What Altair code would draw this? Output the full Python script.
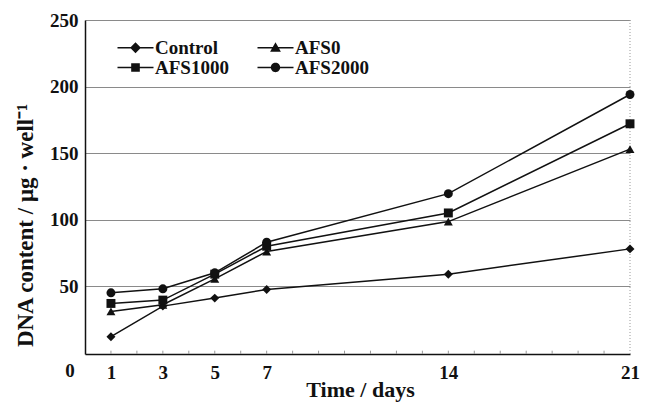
import altair as alt
import pandas as pd

days = [1, 3, 5, 7, 14, 21]
series_names = ["Control", "AFS0", "AFS1000", "AFS2000"]
series_shapes = ["diamond", "triangle-up", "square", "circle"]
control = [12, 35, 41, 47.5, 59, 78]
afs0 = [31, 36, 55.5, 76, 98.5, 153]
afs1000 = [37, 39.5, 59, 80, 105, 172]
afs2000 = [45, 48, 60, 83, 119.5, 194]
x_ticks = [1, 3, 5, 7, 14, 21]
y_ticks = [50, 100, 150, 200, 250]
minor_days = list(range(1, 21))

values = {"Control": control, "AFS0": afs0, "AFS1000": afs1000, "AFS2000": afs2000}
rows = []
for name in series_names:
    for d, v in zip(days, values[name]):
        rows.append({"day": d, "dna": v, "series": name})
df = pd.DataFrame(rows)

FONT = "Liberation Serif"

x_enc = alt.X(
    "day:Q",
    scale=alt.Scale(domain=[0, 21], nice=False, zero=False),
    axis=alt.Axis(
        values=x_ticks, title="Time / days", grid=False, ticks=False,
        labelFont=FONT, labelFontSize=19, labelFontWeight="bold", labelColor="#111",
        labelPadding=9, labelFlush=False,
        titleFont=FONT, titleFontSize=22, titleFontWeight="bold", titleColor="#111",
        titleX=275, titleY=42, titleBaseline="alphabetic", titleAlign="center",
        domainColor="#111", domainWidth=1.5,
    ),
)
y_enc = alt.Y(
    "dna:Q",
    scale=alt.Scale(domain=[-1, 250], nice=False, zero=False),
    axis=alt.Axis(
        values=y_ticks, title="DNA content / μg · well⁻¹", ticks=False,
        grid=True, gridColor="#8a8a8a", gridWidth=1,
        labelFont=FONT, labelFontSize=19, labelFontWeight="bold", labelColor="#111",
        labelPadding=7,
        titleFont=FONT, titleFontSize=23, titleFontWeight="bold", titleColor="#111",
        titleX=-60, titleY=205, titleAlign="center", titleBaseline="middle", titleAngle=-90,
        domainColor="#111", domainWidth=1.5,
    ),
)

base = alt.Chart(df)

lines = base.mark_line(color="#111", strokeWidth=1.5).encode(
    x=x_enc, y=y_enc, detail="series:N"
)

point_layers = [
    base.transform_filter(alt.datum.series == name)
    .mark_point(filled=True, color="#111", size=80, opacity=1, shape=shp)
    .encode(x="day:Q", y="dna:Q")
    for name, shp in zip(series_names, series_shapes)
]

line_seg = "M-2,-0.08L2,-0.08L2,0.08L-2,0.08Z"
legend_paths = [
    line_seg + "M0,-0.6L0.6,0L0,0.6L-0.6,0Z",
    line_seg + "M0,-0.6L0.6,0.45L-0.6,0.45Z",
    line_seg + "M-0.48,-0.48L0.48,-0.48L0.48,0.48L-0.48,0.48Z",
    line_seg + "M-0.52,0A0.52,0.52 0 1,1 0.52,0A0.52,0.52 0 1,1 -0.52,0Z",
]

legend_layer = base.mark_point(
    filled=False, color="#111", fill="#111", strokeWidth=1.3, opacity=0
).encode(
    x="day:Q", y="dna:Q",
    shape=alt.Shape(
        "series:N",
        scale=alt.Scale(domain=series_names, range=legend_paths),
        legend=alt.Legend(
            title=None, orient="none", legendX=41, legendY=18, columns=2,
            direction="horizontal",
            labelFont=FONT, labelFontSize=19, labelFontWeight="bold",
        ),
    ),
)

minor_df = pd.DataFrame({"day": minor_days, "y0": [-1] * len(minor_days), "y1": [1.5] * len(minor_days)})
minor = alt.Chart(minor_df).mark_rule(color="#999", strokeWidth=1).encode(
    x="day:Q", y="y0:Q", y2="y1:Q"
)

right_edge = alt.Chart(pd.DataFrame({"day": [21]})).mark_rule(
    color="#999", strokeDash=[1, 2], strokeWidth=1
).encode(x="day:Q", y=alt.datum(-1), y2=alt.datum(250))

origin_label = alt.Chart(pd.DataFrame({"day": [0], "dna": [-1], "t": ["0"]})).mark_text(
    font=FONT, fontSize=19, fontWeight="bold", color="#111", dx=-15, dy=17,
    baseline="middle", align="center",
).encode(x="day:Q", y="dna:Q", text="t:N")

chart = alt.layer(minor, right_edge, lines, *point_layers, legend_layer, origin_label).properties(
    width=545, height=334,
    autosize=alt.AutoSizeParams(type="none"),
    padding={"left": 85, "top": 20, "right": 21, "bottom": 48},
    background="white",
).configure(font=FONT).configure_view(stroke=None).configure_legend(
    symbolSize=324, symbolFillColor="#111", symbolStrokeColor="#111",
    symbolStrokeWidth=1, symbolOpacity=1,
    labelFont=FONT, labelFontSize=19, labelFontWeight="bold", labelColor="#111",
    labelOffset=10, columnPadding=26, rowPadding=-1, padding=0,
    labelLimit=200,
)

chart.save("out.html", embed_options={"renderer": "svg", "actions": False})
